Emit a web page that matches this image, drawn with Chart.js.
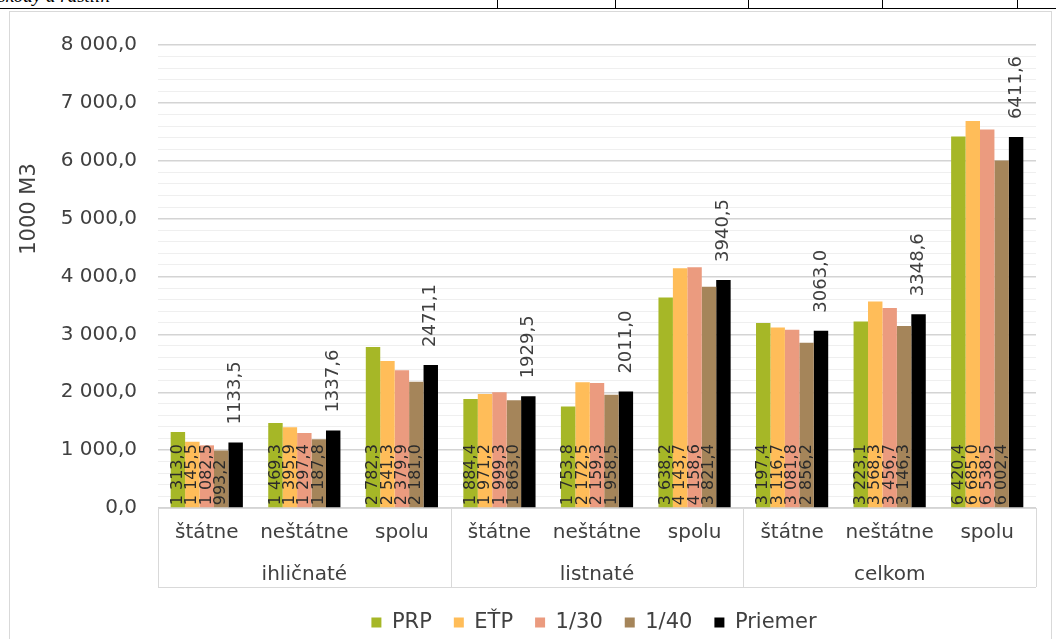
<!DOCTYPE html>
<html><head><meta charset="utf-8">
<script src="https://cdn.jsdelivr.net/npm/chart.js@4"></script>
<style>
html,body{margin:0;padding:0;background:#fff;width:1056px;height:639px;overflow:hidden;position:relative;}
#docline{position:absolute;left:0;top:8px;width:1056px;height:0;border-top:1.5px solid #000;}
.vl{position:absolute;top:0;width:1px;height:9px;background:#000;}
#doctext{position:absolute;left:-2px;top:-15px;font:italic 19px "Liberation Serif",serif;color:#000;white-space:nowrap;}
#frame{position:absolute;left:9px;top:11px;width:1041px;height:640px;border:1px solid #d9d9d9;border-bottom:none;}
#c{position:absolute;left:0;top:0;}
</style></head>
<body>
<div id="doctext">škody a rastlín</div>
<div id="docline"></div>
<div class="vl" style="left:497px"></div>
<div class="vl" style="left:615px"></div>
<div class="vl" style="left:748px"></div>
<div class="vl" style="left:882px"></div>
<div class="vl" style="left:1017px"></div>
<div id="frame"><canvas id="c" width="1040" height="640" style="width:1040px;height:640px"></canvas></div>
<script>
const categories = ['štátne','neštátne','spolu','štátne','neštátne','spolu','štátne','neštátne','spolu'];
const groups = ['ihličnaté','listnaté','celkom'];
const seriesNames = ['PRP','EŤP','1/30','1/40','Priemer'];
const PRP     = [1313.0, 1469.3, 2782.3, 1884.4, 1753.8, 3638.2, 3197.4, 3223.1, 6420.4];
const ETP     = [1145.5, 1395.9, 2541.3, 1971.2, 2172.5, 4143.7, 3116.7, 3568.3, 6685.0];
const R30     = [1082.5, 1297.4, 2379.9, 1999.3, 2159.3, 4158.6, 3081.8, 3456.7, 6538.5];
const R40     = [993.2, 1187.8, 2181.0, 1863.0, 1958.5, 3821.4, 2856.2, 3146.3, 6002.4];
const Priemer = [1133.5, 1337.6, 2471.1, 1929.5, 2011.0, 3940.5, 3063.0, 3348.6, 6411.6];
const yTicksMax = 8000;

const colors = ['#A6B727','#FFBD59','#EB9B7F','#A5855A','#000000'];
const FONT = '"DejaVu Sans", sans-serif';

function fmtSpace(v){
  const s = v.toFixed(1).split('.');
  const ip = s[0].replace(/\B(?=(\d{3})+(?!\d))/g,' ');
  return ip + ',' + s[1];
}
function fmtPlain(v){ return v.toFixed(1).replace('.', ','); }

const barLabels = {
  id:'barLabels',
  afterDatasetsDraw(chart){
    const ctx = chart.ctx;
    chart.data.datasets.forEach((ds, di) => {
      const meta = chart.getDatasetMeta(di);
      meta.data.forEach((bar, i) => {
        const v = ds.data[i];
        ctx.save();
        if (di < 4) {
          ctx.font = '16px ' + FONT;
          ctx.fillStyle = '#2b2b2b';
          ctx.translate(bar.x, bar.base - 2);
          ctx.rotate(-Math.PI/2);
          ctx.textAlign = 'left'; ctx.textBaseline = 'middle';
          ctx.fillText(fmtSpace(v), 0, 0);
        } else {
          ctx.font = '18px ' + FONT;
          ctx.fillStyle = '#404040';
          ctx.translate(bar.x, bar.y - 18);
          ctx.rotate(-Math.PI/2);
          ctx.textAlign = 'left'; ctx.textBaseline = 'middle';
          ctx.fillText(fmtPlain(v), 0, 0);
        }
        ctx.restore();
      });
    });
  }
};

const legendShift = {
  id:'legendShift',
  afterLayout(chart){
    if (chart.legend) { chart.legend.left += 71; chart.legend.right += 71; }
  }
};

const axisDecor = {
  id:'axisDecor',
  afterDraw(chart){
    const ctx = chart.ctx;
    const x = chart.scales.x;
    const ca = chart.chartArea;
    const half = (x.getPixelForValue(1) - x.getPixelForValue(0)) / 2;
    const bottom = ca.bottom + 79;
    ctx.save();
    ctx.strokeStyle = '#d9d9d9';
    ctx.lineWidth = 1;
    const bounds = [0,3,6,9].map(k => k === 9 ? x.getPixelForValue(8) + half : x.getPixelForValue(k) - half);
    bounds.forEach(b => {
      const bx = Math.round(b) + 0.5;
      ctx.beginPath(); ctx.moveTo(bx, ca.bottom); ctx.lineTo(bx, bottom); ctx.stroke();
    });
    ctx.beginPath(); ctx.moveTo(bounds[0], bottom + 0.5); ctx.lineTo(bounds[3], bottom + 0.5); ctx.stroke();
    ctx.font = '20px ' + FONT;
    ctx.fillStyle = '#404040';
    ctx.textAlign = 'center'; ctx.textBaseline = 'middle';
    groups.forEach((g, k) => {
      ctx.fillText(g, (bounds[k] + bounds[k+1]) / 2, ca.bottom + 67);
    });
    // y title
    ctx.translate(20, 197);
    ctx.rotate(-Math.PI/2);
    ctx.font = '21px ' + FONT;
    ctx.fillText('1000 M3', 0, 0);
    ctx.restore();
  }
};

const series = [PRP, ETP, R30, R40, Priemer];
new Chart(document.getElementById('c'), {
  type:'bar',
  data:{
    labels: categories,
    datasets: series.map((d, i) => ({
      label: seriesNames[i], data: d, backgroundColor: colors[i], borderWidth: 0,
      categoryPercentage: 0.74, barPercentage: 1.0
    }))
  },
  options:{
    responsive:false, animation:false,
    layout:{ padding:{ left:0, right:14, top:31, bottom:9 } },
    plugins:{
      tooltip:{enabled:false},
      legend:{
        position:'bottom',
        labels:{ boxWidth:10, boxHeight:10, padding:22, color:'#404040', font:{ family:FONT, size:21 } }
      }
    },
    scales:{
      x:{
        grid:{ display:false },
        border:{ display:true, color:'#d9d9d9' },
        ticks:{ color:'#404040', font:{ family:FONT, size:20 }, padding:5, maxRotation:0, autoSkip:false },
        afterFit(s){ s.height = 82; }
      },
      y:{
        min:0, max:yTicksMax,
        ticks:{ stepSize:200, padding:21, autoSkip:false, color:'#404040', font:{ family:FONT, size:20 },
          callback:(v) => (v % 1000 === 0 ? fmtSpace(v) : '') },
        grid:{ drawTicks:false, color:(c) => (c.tick && c.tick.value % 1000 === 0 ? '#d4d4d4' : '#efefef'),
          lineWidth:(c) => (c.tick && c.tick.value % 1000 === 0 ? 1.5 : 1) },
        border:{ display:false },
        afterFit(s){ s.width = 148; }
      }
    }
  },
  plugins:[barLabels, axisDecor, legendShift]
});
</script>
</body></html>
